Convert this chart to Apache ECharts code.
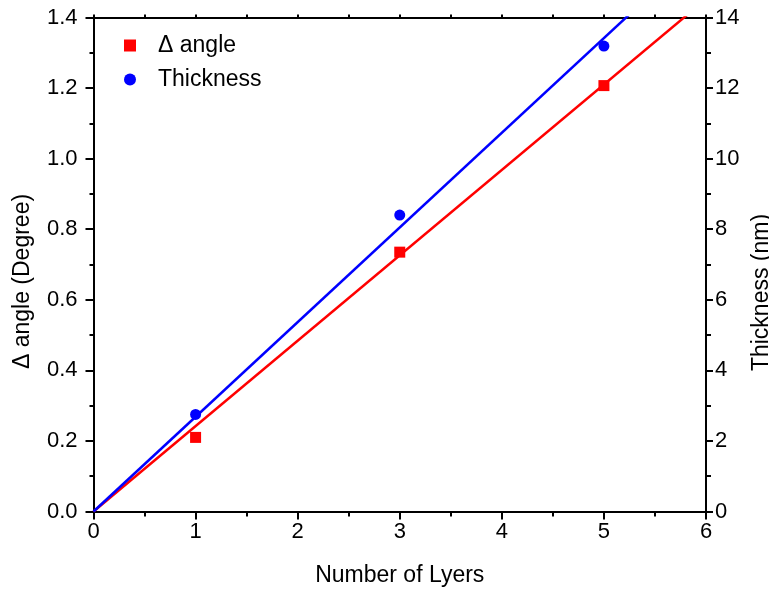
<!DOCTYPE html>
<html>
<head>
<meta charset="utf-8">
<script src="https://cdn.jsdelivr.net/npm/echarts@6/dist/echarts.min.js"></script>
<style>
  html, body { margin: 0; padding: 0; background: #fff; overflow: hidden; }
  #chart { position: absolute; left: 0; top: 0; width: 769px; height: 594px; }
</style>
</head>
<body>
<div id="chart"></div>
<script>
// Measured points: change in angle (left axis) and film thickness (right axis)
const layers = [1, 3, 5];
const deltaAngle = [0.21, 0.735, 1.207];      // degree
const thickness = [2.75, 8.40, 13.19];        // nm

// Linear fits through the origin (end points of each fitted line)
const angleFit = [[0, 0], [6, 1.452]];
const thicknessFit = [[0, 0], [6, 16.1]];

const FONT = "'Liberation Sans', Arial, sans-serif";
const BLACK = '#000';

const chart = echarts.init(document.getElementById('chart'), null, { renderer: 'canvas', width: 769, height: 594 });

const axisLine = { show: true, onZero: false, lineStyle: { color: BLACK, width: 2 } };
const labelStyle = { color: BLACK, fontFamily: FONT, fontSize: 22 };
const nameStyle = { color: BLACK, fontFamily: FONT, fontSize: 23 };

chart.setOption({
  animation: false,
  backgroundColor: '#fff',
  grid: {
    left: 93.5, right: 63, top: 17.5, bottom: 82.5,
    containLabel: false, outerBoundsMode: 'none'
  },
  legend: {
    orient: 'vertical',
    left: 119,
    top: 29,
    itemWidth: 12,
    itemHeight: 12,
    itemGap: 11,
    textStyle: { color: BLACK, fontFamily: FONT, fontSize: 23, padding: [0, 0, 0, 17] },
    data: ['\u0394 angle', 'Thickness']
  },
  xAxis: [
    {
      type: 'value', position: 'bottom', min: 0, max: 6, interval: 1,
      name: 'Number of Lyers', nameLocation: 'middle', nameGap: 53,
      nameTextStyle: nameStyle,
      axisLine: axisLine,
      axisTick: { show: true, inside: false, length: 8, lineStyle: { color: BLACK, width: 2 } },
      minorTick: { show: true, splitNumber: 2, length: 5, lineStyle: { color: BLACK, width: 2 } },
      axisLabel: Object.assign({ margin: 9 }, labelStyle),
      splitLine: { show: false }
    },
    {
      type: 'value', position: 'top', min: 0, max: 6, interval: 0.5,
      axisLine: axisLine,
      axisTick: { show: true, inside: false, length: 3, lineStyle: { color: BLACK, width: 2 } },
      axisLabel: { show: false },
      splitLine: { show: false }
    }
  ],
  yAxis: [
    {
      type: 'value', position: 'left', min: 0, max: 1.4, interval: 0.2,
      name: '\u0394 angle (Degree)', nameLocation: 'middle', nameGap: 59,
      nameTextStyle: Object.assign({ padding: [0, 34, 0, 0] }, nameStyle),
      axisLine: axisLine,
      axisTick: { show: true, inside: false, length: 8, lineStyle: { color: BLACK, width: 2 } },
      minorTick: { show: true, splitNumber: 2, length: 4, lineStyle: { color: BLACK, width: 2 } },
      axisLabel: Object.assign({ margin: 16, formatter: v => v.toFixed(1) }, labelStyle),
      splitLine: { show: false }
    },
    {
      type: 'value', position: 'right', min: 0, max: 14, interval: 2,
      name: 'Thickness (nm)', nameLocation: 'middle', nameGap: 37,
      nameTextStyle: Object.assign({ padding: [0, 56, 0, 0] }, nameStyle),
      axisLine: axisLine,
      axisTick: { show: true, inside: false, length: 7, lineStyle: { color: BLACK, width: 2 } },
      minorTick: { show: true, splitNumber: 2, length: 5, lineStyle: { color: BLACK, width: 2 } },
      axisLabel: Object.assign({ margin: 9 }, labelStyle),
      splitLine: { show: false }
    }
  ],
  series: [
    {
      name: 'angle fit', type: 'line', xAxisIndex: 0, yAxisIndex: 0,
      data: angleFit, showSymbol: false, symbol: 'none', clip: true,
      lineStyle: { color: '#ff0000', width: 2.5 }, silent: true, z: 2
    },
    {
      name: 'thickness fit', type: 'line', xAxisIndex: 0, yAxisIndex: 1,
      data: thicknessFit, showSymbol: false, symbol: 'none', clip: true,
      lineStyle: { color: '#0000ff', width: 2.5 }, silent: true, z: 3
    },
    {
      name: '\u0394 angle', type: 'scatter', xAxisIndex: 0, yAxisIndex: 0,
      symbol: 'rect', symbolSize: 11,
      itemStyle: { color: '#ff0000', opacity: 1 },
      data: layers.map((x, i) => [x, deltaAngle[i]]), z: 4
    },
    {
      name: 'Thickness', type: 'scatter', xAxisIndex: 0, yAxisIndex: 1,
      symbol: 'circle', symbolSize: 11,
      itemStyle: { color: '#0000ff', opacity: 1 },
      data: layers.map((x, i) => [x, thickness[i]]), z: 5
    }
  ]
});
</script>
</body>
</html>
